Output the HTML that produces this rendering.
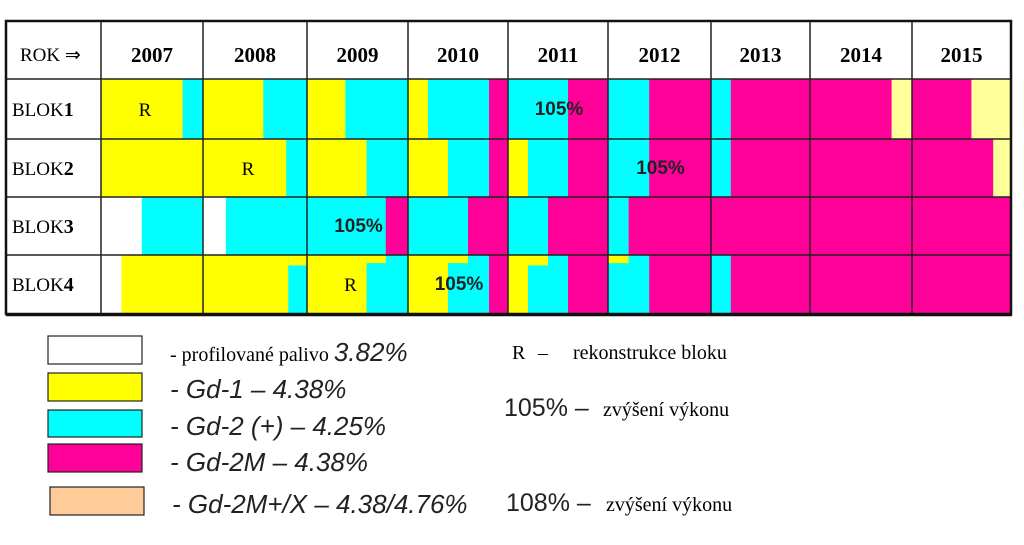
<!DOCTYPE html>
<html><head><meta charset="utf-8"><style>
html,body{margin:0;padding:0;background:#fff;width:1024px;height:545px;overflow:hidden}
svg text{font-family:"Liberation Serif",serif}
.sans{font-family:"Liberation Sans",sans-serif}
</style></head><body>
<svg id="chart" width="1024" height="545" xmlns="http://www.w3.org/2000/svg">
<g id="cells"></g>
<g id="grid"></g>
<g id="labels"></g>
<g>
 <rect x="48" y="336" width="94" height="28" fill="#fff" stroke="#222" stroke-width="1.2"/>
 <rect x="48" y="373" width="94" height="28" fill="#ffff00" stroke="#222" stroke-width="1.2"/>
 <rect x="48" y="410" width="94" height="27" fill="#00ffff" stroke="#222" stroke-width="1.2"/>
 <rect x="48" y="444" width="94" height="28" fill="#ff0099" stroke="#222" stroke-width="1.2"/>
 <rect x="50" y="487" width="94" height="28" fill="#ffcc99" stroke="#222" stroke-width="1.2"/>
 <text x="170" y="361" font-size="20">- profilované palivo <tspan class="sans" font-style="italic" font-size="26" fill="#222">3.82%</tspan></text>
 <text class="sans" x="170" y="398" font-size="26" font-style="italic" fill="#222">- Gd-1 – 4.38%</text>
 <text class="sans" x="170" y="435" font-size="26" font-style="italic" fill="#222">- Gd-2 (+) – 4.25%</text>
 <text class="sans" x="170" y="471" font-size="26" font-style="italic" fill="#222">- Gd-2M – 4.38%</text>
 <text class="sans" x="172" y="513" font-size="26" font-style="italic" fill="#222">- Gd-2M+/X – 4.38/4.76%</text>
 <text x="512" y="359" font-size="20">R<tspan x="538">–</tspan><tspan x="573">rekonstrukce bloku</tspan></text>
 <text x="504" y="416" font-size="20"><tspan class="sans" font-size="25" fill="#222">105% –</tspan><tspan x="603">zvýšení výkonu</tspan></text>
 <text x="506" y="511" font-size="20"><tspan class="sans" font-size="25" fill="#222">108% –</tspan><tspan x="606">zvýšení výkonu</tspan></text>
</g>
</svg>
<script>
const years = [2007,2008,2009,2010,2011,2012,2013,2014,2015];
const blocks = ["1","2","3","4"];
// [year, start fraction, end fraction, fuel]
const blok1Segments = [[2007,0,.8,"Y"],[2007,.8,1,"C"],[2008,0,.58,"Y"],[2008,.58,1,"C"],[2009,0,.38,"Y"],[2009,.38,1,"C"],
 [2010,0,.2,"Y"],[2010,.2,.81,"C"],[2010,.81,1,"M"],[2011,0,.6,"C"],[2011,.6,1,"M"],[2012,0,.4,"C"],[2012,.4,1,"M"],
 [2013,0,.2,"C"],[2013,.2,1,"M"],[2014,0,.8,"M"],[2014,.8,1,"L"],[2015,0,.6,"M"],[2015,.6,1,"L"]];
const blok2Segments = [[2007,0,1,"Y"],[2008,0,.8,"Y"],[2008,.8,1,"C"],[2009,0,.59,"Y"],[2009,.59,1,"C"],
 [2010,0,.4,"Y"],[2010,.4,.81,"C"],[2010,.81,1,"M"],[2011,0,.2,"Y"],[2011,.2,.6,"C"],[2011,.6,1,"M"],
 [2012,0,.4,"C"],[2012,.4,1,"M"],[2013,0,.2,"C"],[2013,.2,1,"M"],[2014,0,1,"M"],[2015,0,.82,"M"],[2015,.82,1,"L"]];
const blok3Segments = [[2007,0,.4,"W"],[2007,.4,1,"C"],[2008,0,.22,"W"],[2008,.22,1,"C"],[2009,0,.78,"C"],[2009,.78,1,"M"],
 [2010,0,.6,"C"],[2010,.6,1,"M"],[2011,0,.4,"C"],[2011,.4,1,"M"],[2012,0,.2,"C"],[2012,.2,1,"M"],
 [2013,0,1,"M"],[2014,0,1,"M"],[2015,0,1,"M"]];
const blok4Segments = [[2007,0,.2,"W"],[2007,.2,1,"Y"],[2008,0,.82,"Y"],[2008,.82,1,"C"],[2009,0,.59,"Y"],[2009,.59,1,"C"],
 [2010,0,.4,"Y"],[2010,.4,.81,"C"],[2010,.81,1,"M"],[2011,0,.2,"Y"],[2011,.2,.6,"C"],[2011,.6,1,"M"],
 [2012,0,.4,"C"],[2012,.4,1,"M"],[2013,0,.2,"C"],[2013,.2,1,"M"],[2014,0,1,"M"],[2015,0,1,"M"]];
// partial-height top bands: [block index, year, start, end, fuel, height fraction]
const topBands = [[3,2008,.82,1,"Y",.18],[3,2009,.59,.78,"Y",.14],[3,2010,.4,.6,"Y",.14],[3,2011,.2,.4,"Y",.18],[3,2012,0,.2,"Y",.14]];
const colHeaders = ["2007","2008","2009","2010","2011","2012","2013","2014","2015"];
const rLabels = [[0,2007],[1,2008],[3,2009]];
const pctLabels = [[0,2011],[1,2012],[2,2009],[3,2010]];
const fuelColor = {W:"#ffffff",Y:"#ffff00",C:"#00ffff",M:"#ff0099",L:"#ffff99"};

const SVGNS="http://www.w3.org/2000/svg";
const colX=[101,203,307,408,508,608,711,810,912,1011];
const rowY=[79,139,197,255,313];
function xAt(year,frac){const i=years.indexOf(year);return colX[i]+frac*(colX[i+1]-colX[i]);}
function yAt(b,frac){return rowY[b]+frac*(rowY[b+1]-rowY[b]);}
function mk(tag,attrs,parent){const e=document.createElementNS(SVGNS,tag);for(const k in attrs)e.setAttribute(k,attrs[k]);parent.appendChild(e);return e;}

const cells=document.getElementById('cells');
const allRows=[blok1Segments,blok2Segments,blok3Segments,blok4Segments];
allRows.forEach((segs,b)=>{
  segs.forEach(([yr,s,e,f])=>{
    const x0=xAt(yr,s), x1=xAt(yr,e);
    const r=mk('rect',{x:x0,y:yAt(b,0),width:Math.max(0,x1-x0)+0.3,height:yAt(b,1)-yAt(b,0),fill:fuelColor[f]},cells);
    
    
  });
});
topBands.forEach(([b,yr,s,e,f,h])=>{
  const x0=xAt(yr,s), x1=xAt(yr,e);
  const r=mk('rect',{x:x0,y:yAt(b,0),width:Math.max(0,x1-x0),height:yAt(b,h)-yAt(b,0),fill:fuelColor[f]},cells);
  
  
});
const grid=document.getElementById('grid');
for(let i=0;i<colX.length;i++){
  const l=mk('line',{x1:colX[i],x2:colX[i],y1:21,y2:313,stroke:'#222','stroke-width':1.5},grid);
  
  
}
for(const y of rowY.slice(0,4)){
  const l=mk('line',{x1:5,x2:1011,y1:y,y2:y,stroke:'#222','stroke-width':1.5},grid);
  
  
}
const border=mk('rect',{x:6,y:21,width:1005,height:293,fill:'none',stroke:'#111','stroke-width':2.5},grid);


const bb=mk('line',{x1:6,x2:1012,y1:315,y2:315,stroke:'#111','stroke-width':2.5},grid);



const labels=document.getElementById('labels');
const rok=mk('text',{x:20,y:61,'font-size':19},labels);
rok.textContent='ROK ⇒';


colHeaders.forEach((h,i)=>{
  const t=mk('text',{x:(colX[i]+colX[i+1])/2,y:62,'font-size':21,'font-weight':'bold','text-anchor':'middle'},labels);
  t.textContent=h;
  
  
});
blocks.forEach((b,i)=>{
  const t=mk('text',{x:12,y:(rowY[i]+rowY[i+1])/2+7,'font-size':19},labels);
  t.innerHTML='BLOK<tspan font-weight="bold" font-size="20">'+b+'</tspan>';
  
  
});
rLabels.forEach(([b,y])=>{
  const t=mk('text',{x:(xAt(y,0)+xAt(y,1))/2-7,y:(rowY[b]+rowY[b+1])/2+7,'font-size':19,'text-anchor':'middle'},labels);
  t.textContent='R';
  
  
});
pctLabels.forEach(([b,y])=>{
  const t=mk('text',{x:(xAt(y,0)+xAt(y,1))/2+1,y:(rowY[b]+rowY[b+1])/2+6,'font-size':19,'font-weight':'bold','text-anchor':'middle',fill:'#222',class:'sans'},labels);
  t.textContent='105%';
  
  
});
</script>
</body></html>
